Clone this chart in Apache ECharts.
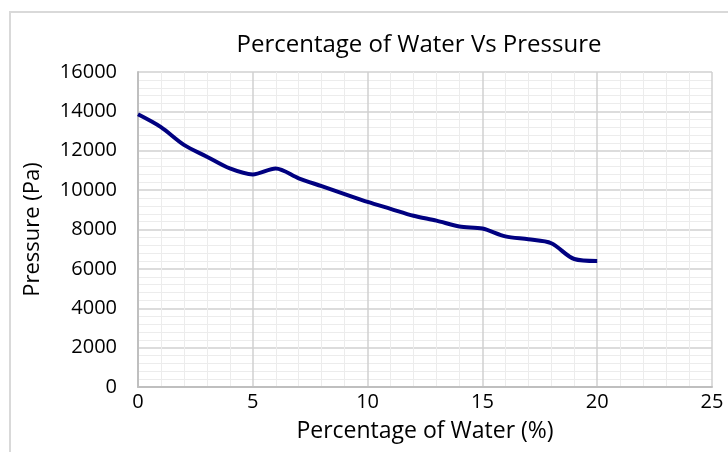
<!DOCTYPE html>
<html>
<head>
<meta charset="utf-8">
<script src="https://cdn.jsdelivr.net/npm/echarts@6/dist/echarts.min.js"></script>
<style>
  html, body { margin: 0; padding: 0; background: #fff; }
  #chart { width: 728px; height: 452px; }
</style>
</head>
<body>
<div id="chart"></div>
<script>
const waterPct = [0, 1, 2, 3, 4, 5, 6, 7, 8, 9, 10, 11, 12, 13, 14, 15, 16, 17, 18, 19, 20];
const pressure = [13850, 13200, 12300, 11700, 11100, 10800, 11100, 10600, 10200, 9800, 9400,
  9050, 8700, 8450, 8150, 8050, 7650, 7500, 7300, 6500, 6400];

const fontFam = "'Open Sans', 'Noto Sans', sans-serif";

const chart = echarts.init(document.getElementById("chart"));
chart.setOption({
  animation: false,
  backgroundColor: "#ffffff",
  title: {
    text: "Percentage of Water Vs Pressure",
    left: 414,
    textAlign: "center",
    top: 28,
    textStyle: { fontFamily: fontFam, fontWeight: "normal", fontSize: 24, color: "#000" }
  },
  graphic: [{
    type: "rect",
    shape: { x: 10, y: 12, width: 740, height: 460 },
    style: { fill: "none", stroke: "#d9d9d9", lineWidth: 2 }
  }],
  grid: { left: 138, right: 16, top: 72, bottom: 65 },
  xAxis: {
    type: "value",
    min: 0, max: 25, interval: 5,
    name: "Percentage of Water (%)",
    nameLocation: "middle",
    nameGap: 33,
    nameTextStyle: { fontFamily: fontFam, fontSize: 23, color: "#000" },
    axisLine: { show: true, lineStyle: { color: "#bfbfbf", width: 2 } },
    axisTick: { show: false },
    axisLabel: { fontFamily: fontFam, fontSize: 20, color: "#000", margin: 5 },
    splitLine: { show: true, lineStyle: { color: "#d0d0d0", width: 1.5 } },
    minorTick: { show: false, splitNumber: 5 },
    minorSplitLine: { show: true, lineStyle: { color: "#ececec", width: 1 } }
  },
  yAxis: {
    type: "value",
    min: 0, max: 16000, interval: 2000,
    name: "Pressure (Pa)",
    nameLocation: "middle",
    nameGap: 94,
    nameTextStyle: { fontFamily: fontFam, fontSize: 22, color: "#000" },
    axisLine: { show: true, lineStyle: { color: "#bfbfbf", width: 2 } },
    axisTick: { show: false },
    axisLabel: { fontFamily: fontFam, fontSize: 20, color: "#000", margin: 21, formatter: v => String(v) },
    splitLine: { show: true, lineStyle: { color: "#d0d0d0", width: 1.5 } },
    minorTick: { show: false, splitNumber: 5 },
    minorSplitLine: { show: true, lineStyle: { color: "#ececec", width: 1 } }
  },
  series: [{
    type: "line",
    data: waterPct.map((x, i) => [x, pressure[i]]),
    smooth: 0.3,
    showSymbol: false,
    lineStyle: { color: "#000080", width: 4 },
    itemStyle: { color: "#000080" }
  }]
});
</script>
</body>
</html>
